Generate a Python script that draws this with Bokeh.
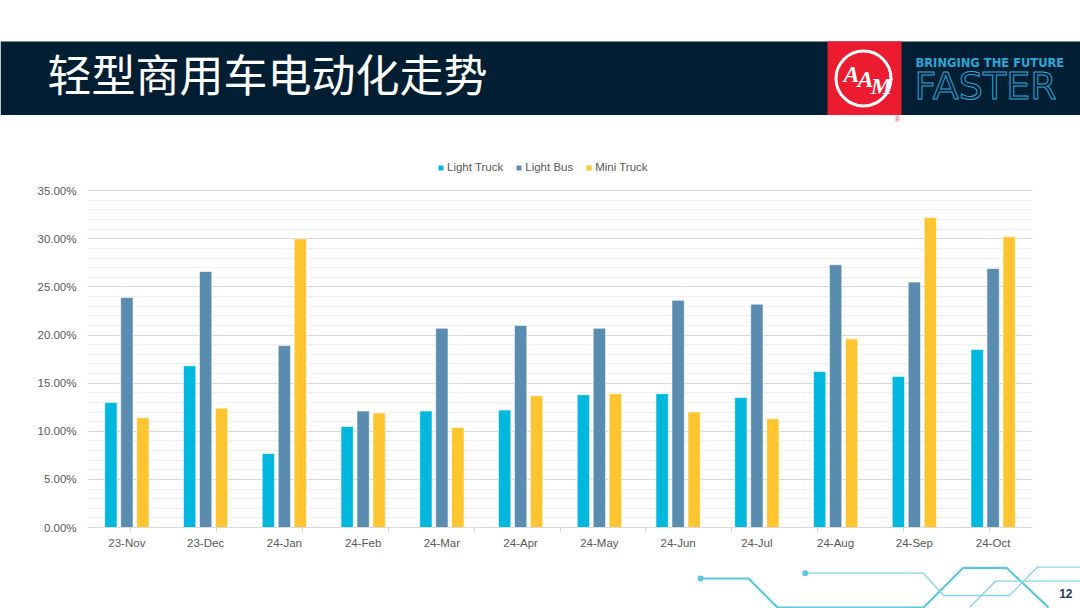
from bokeh.plotting import figure
from bokeh.layouts import column
from bokeh.models import (FactorRange, Range1d, FixedTicker, CustomJSTickFormatter,
                          LinearAxis, CategoricalAxis, Legend, LegendItem, ColumnDataSource,
                          CustomLabelingPolicy)
from bokeh.transform import dodge
from bokeh.core.properties import value
from bokeh.embed import file_html
from bokeh.resources import INLINE

# ---------------- data ----------------
months = ["23-Nov", "23-Dec", "24-Jan", "24-Feb", "24-Mar", "24-Apr",
          "24-May", "24-Jun", "24-Jul", "24-Aug", "24-Sep", "24-Oct"]
light_truck = [13.0, 16.8, 7.7, 10.5, 12.1, 12.2, 13.8, 13.9, 13.5, 16.2, 15.7, 18.5]
light_bus = [23.9, 26.6, 18.9, 12.1, 20.7, 21.0, 20.7, 23.6, 23.2, 27.3, 25.5, 26.9]
mini_truck = [11.4, 12.4, 30.0, 11.9, 10.4, 13.7, 13.9, 12.0, 11.3, 19.6, 32.2, 30.2]
series_names = ["Light Truck", "Light Bus", "Mini Truck"]
y_ticks = [0, 5, 10, 15, 20, 25, 30, 35]
title_text = "轻型商用车电动化走势"

# ---------------- styles ----------------
C_LT = "#00B8DE"
C_LB = "#5A8CB0"
C_MT = "#FFC530"
NAVY = "#021E33"
RED = "#ED1B2F"
CYAN = "#2BA6D6"
LINE1 = "#5EC6DE"
LINE2 = "#8AD3E6"
TXT = "#595959"
FONT = "Liberation Sans"

W = 1080

def deco_fig(h, y0, y1):
    f = figure(width=W, height=h, x_range=Range1d(0, W), y_range=Range1d(y1, y0),
               output_backend="svg", toolbar_location=None, frame_align=False,
               x_axis_location=None, y_axis_location=None, min_border=0)
    f.grid.visible = False
    f.outline_line_color = None
    f.background_fill_color = "white"
    f.border_fill_color = "white"
    return f

# ---------------- header ----------------
hdr = deco_fig(140, 0, 140)
hdr.quad(left=[0], right=[W], top=[41], bottom=[114.5], fill_color=NAVY, line_color=None)
hdr.text(x=[47], y=[72], text=[title_text], text_font=value("Noto Sans CJK SC"),
         text_font_size="44px", text_color="white", text_baseline="middle")
# logo
hdr.quad(left=[827], right=[901], top=[41], bottom=[114.5], fill_color=RED, line_color=None)
hdr.circle(x=[863], y=[78], radius=27.5, fill_color=None, line_color="white", line_width=3)
hdr.text(x=[851, 865, 881], y=[73, 78, 85], text=["A", "A", "M"],
         text_font=value("Liberation Serif"), text_font_style="bold italic",
         text_font_size="24px", text_color="white", text_align="center",
         text_baseline="alphabetic")
hdr.text(x=[897], y=[119], text=["®"], text_font=value(FONT), text_font_size="8px",
         text_color="#E0505C", text_align="center", text_baseline="middle")
hdr.text(x=[915], y=[62], text=["BRINGING THE FUTURE"], text_font=value("DejaVu Sans"),
         text_font_style="bold", text_font_size="11.5px", text_color=CYAN,
         text_baseline="alphabetic")
hdr.text(x=[914], y=[85], text=["FASTER"], text_font=value("DejaVu Sans"),
         text_font_size="38px", text_color=NAVY, text_outline_color=CYAN,
         text_baseline="alphabetic")

# ---------------- chart ----------------
src = ColumnDataSource(dict(month=months, lt=light_truck, lb=light_bus, mt=mini_truck))

p = figure(width=W, height=420, x_range=FactorRange(*months), y_range=Range1d(0, 40),
           output_backend="svg", toolbar_location=None, frame_align=False,
           x_axis_location=None, y_axis_location=None,
           min_border_left=87, min_border_right=48, min_border_top=2, min_border_bottom=33)
p.outline_line_color = None
p.background_fill_color = "white"
p.border_fill_color = "white"

bw = 0.157
step = 0.203
r1 = p.vbar(x=dodge("month", -step, range=p.x_range), top="lt", width=bw, source=src,
            fill_color=C_LT, line_color="white", line_alpha=0.6, line_width=1)
r2 = p.vbar(x=dodge("month", 0, range=p.x_range), top="lb", width=bw, source=src,
            fill_color=C_LB, line_color="white", line_alpha=0.6, line_width=1)
r3 = p.vbar(x=dodge("month", step, range=p.x_range), top="mt", width=bw, source=src,
            fill_color=C_MT, line_color="white", line_alpha=0.6, line_width=1)

# y axis
yax = LinearAxis(ticker=FixedTicker(ticks=y_ticks, minor_ticks=list(range(0, 36))),
                 formatter=CustomJSTickFormatter(code="return tick.toFixed(2) + '%';"))
yax.axis_line_color = None
yax.major_tick_line_color = None
yax.minor_tick_line_color = None
yax.major_tick_out = 0
yax.major_tick_in = 0
yax.minor_tick_out = 0
yax.major_label_standoff = 11
yax.major_label_text_font = FONT
yax.major_label_text_font_size = "11.5px"
yax.major_label_text_color = TXT
p.add_layout(yax, "left")

# boundary tick axis (ticks between categories): factor range of the 13 category edges
edge_factors = ["e%d" % i for i in range(len(months) + 1)]
p.extra_x_ranges = {"edges": FactorRange(*edge_factors, range_padding=-1,
                                         range_padding_units="absolute")}
bax = CategoricalAxis(x_range_name="edges")
bax.axis_line_color = "#D9D9D9"
bax.major_tick_line_color = "#D9D9D9"
bax.major_tick_out = 5
bax.major_tick_in = 0
bax.minor_tick_line_color = None
bax.major_label_text_font_size = "0px"
bax.major_label_overrides = {f: "" for f in edge_factors}
bax.major_label_policy = CustomLabelingPolicy(
    code="for (const i of Array.from(indices)) { indices.unset(i) }; return indices;")
bax.major_label_standoff = 0
p.add_layout(bax, "below")

xax = CategoricalAxis()
xax.axis_line_color = None
xax.major_tick_line_color = None
xax.minor_tick_line_color = None
xax.major_tick_out = 0
xax.major_tick_in = 0
xax.major_label_standoff = 4
xax.major_label_text_font = FONT
xax.major_label_text_font_size = "11.5px"
xax.major_label_text_color = TXT
p.add_layout(xax, "below")

p.xgrid.visible = False
p.ygrid.grid_line_color = "#D9D9D9"
p.ygrid.minor_grid_line_color = "#F0F0F0"
p.ygrid.ticker = yax.ticker

legend = Legend(items=[LegendItem(label=series_names[0], renderers=[r1]),
                       LegendItem(label=series_names[1], renderers=[r2]),
                       LegendItem(label=series_names[2], renderers=[r3])],
                orientation="horizontal", location=(350, 353))
legend.border_line_color = None
legend.background_fill_alpha = 0
legend.padding = 0
legend.margin = 0
legend.spacing = 12
legend.glyph_width = 7
legend.glyph_height = 7
legend.label_standoff = 3
legend.label_text_font = FONT
legend.label_text_font_size = "11.5px"
legend.label_text_color = TXT
legend.label_height = 14
p.add_layout(legend, "center")

# ---------------- footer ----------------
ftr = deco_fig(48, 560, 608)
ftr.line(x=[700, 748, 777, 923, 962.7, 1006, 1048], y=[578, 578, 607, 607, 567.3, 567.3, 607],
         line_color=LINE1, line_width=2.2)
ftr.line(x=[804.7, 923, 943, 1009, 1036.7, 1080], y=[572.7, 572.7, 595, 595, 566.7, 566.7],
         line_color=LINE2, line_width=1.3)
ftr.line(x=[969, 995, 1080], y=[607, 580.7, 580.7], line_color=LINE2, line_width=1.3)
ftr.scatter(x=[700, 804.7], y=[578, 572.7], size=6, fill_color=LINE1, line_color=None)
ftr.text(x=[1072], y=[593], text=["12"], text_font=value(FONT), text_font_style="bold",
         text_font_size="12px", text_color="#1F3A5C", text_align="right",
         text_baseline="middle")

layout = column(hdr, p, ftr, spacing=0)
open("out.html", "w").write(file_html(layout, INLINE))
